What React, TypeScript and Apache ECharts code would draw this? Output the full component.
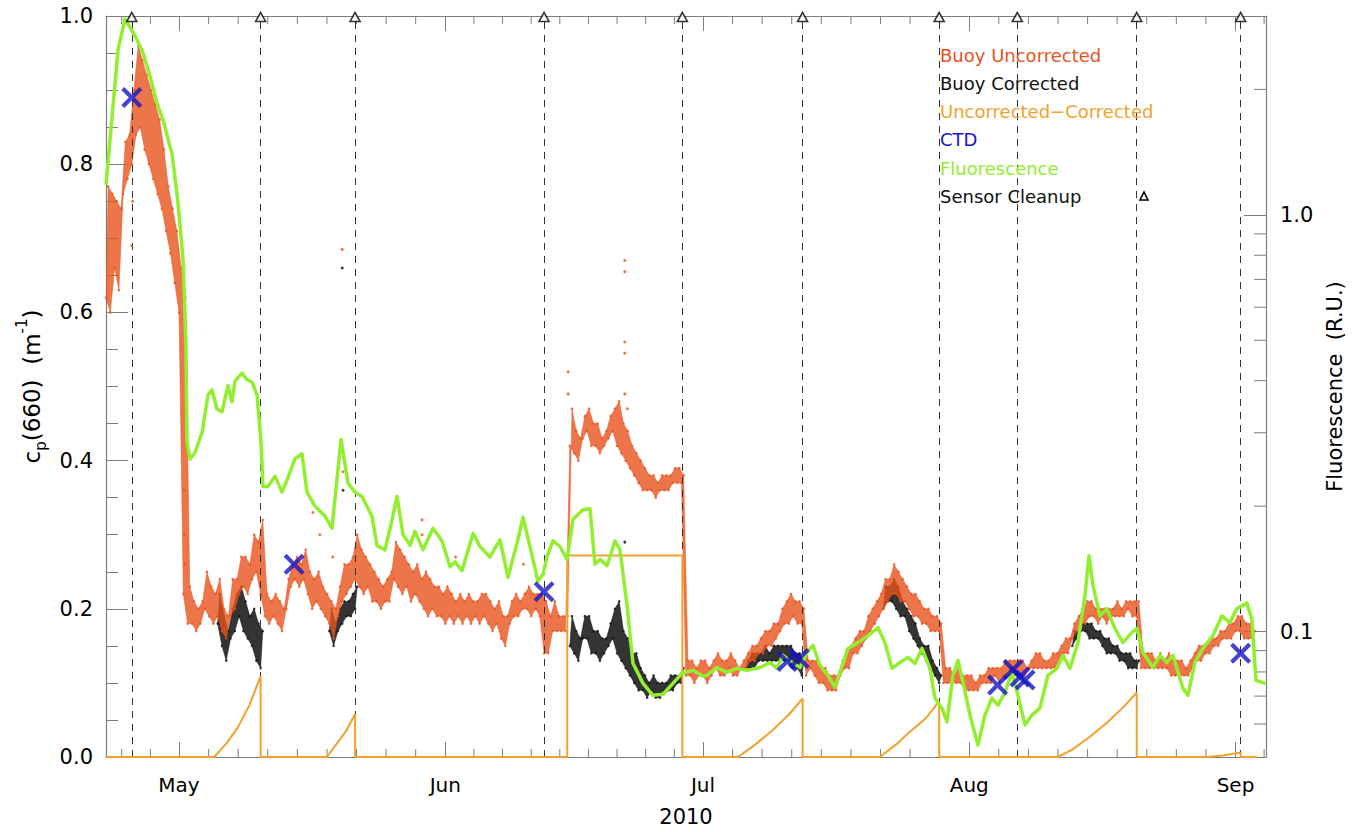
import React, { useEffect, useRef } from 'react';
import * as echarts from 'echarts';

// ---------- axis ranges (day of year 2010) ----------
const X_MIN = 112.5;
const X_MAX = 247.55;
const monthStarts = [91, 121, 152, 182, 213, 244, 274];
const monthTickDays = [121, 152, 182, 213, 244];
const monthNames = ['May', 'Jun', 'Jul', 'Aug', 'Sep'];
const cpTickLabels = ['0.0', '0.2', '0.4', '0.6', '0.8', '1.0'];
const fluorMinorTicks = [0.06, 0.07, 0.08, 0.09, 0.2, 0.3, 0.4, 0.5, 0.6, 0.7, 0.8, 0.9, 2];

// ---------- Sensor cleanup days ----------
const cleanupDays = [115.5, 130.5, 141.5, 163.5, 179.6, 193.6, 209.5, 218.6, 232.5, 244.6];

// ---------- Buoy Uncorrected: low / high envelope every half day from 112.5 ----------
const uncorrStart = 112.5;
const uncorrStep = 0.5;
const uncorrLo = [
  0.62, 0.60, 0.66, 0.63, 0.76, 0.78, 0.80, 0.84, 0.85, 0.82,
  0.80, 0.78, 0.76, 0.74, 0.71, 0.68, 0.64, 0.60, 0.22, 0.18,
  0.18, 0.17, 0.18, 0.20, 0.19, 0.18, 0.19, 0.17, 0.16, 0.19,
  0.20, 0.22, 0.23, 0.22, 0.24, 0.25, 0.22, 0.19, 0.18, 0.19,
  0.18, 0.17, 0.20, 0.23, 0.24, 0.23, 0.24, 0.22, 0.20, 0.21,
  0.20, 0.19, 0.18, 0.16, 0.19, 0.21, 0.22, 0.23, 0.24, 0.23,
  0.22, 0.23, 0.21, 0.21, 0.20, 0.21, 0.21, 0.24, 0.23, 0.22,
  0.23, 0.21, 0.22, 0.21, 0.20, 0.19, 0.20, 0.19, 0.19, 0.18,
  0.19, 0.18, 0.19, 0.18, 0.19, 0.18, 0.19, 0.18, 0.19, 0.18,
  0.17, 0.18, 0.16, 0.15, 0.18, 0.19, 0.19, 0.20, 0.20, 0.19,
  0.20, 0.19, 0.14, 0.14, 0.17, 0.17, 0.17, 0.17, 0.42, 0.41,
  0.40, 0.43, 0.44, 0.42, 0.42, 0.41, 0.42, 0.43, 0.44, 0.42,
  0.41, 0.40, 0.39, 0.38, 0.37, 0.36, 0.36, 0.36, 0.35, 0.36,
  0.36, 0.36, 0.37, 0.37, 0.37, 0.11, 0.11, 0.10, 0.11, 0.11,
  0.10, 0.11, 0.12, 0.11, 0.11, 0.12, 0.11, 0.11, 0.12, 0.12,
  0.13, 0.13, 0.14, 0.14, 0.15, 0.15, 0.16, 0.17, 0.18, 0.18,
  0.19, 0.18, 0.18, 0.11, 0.12, 0.11, 0.10, 0.10, 0.09, 0.09,
  0.09, 0.11, 0.12, 0.12, 0.14, 0.14, 0.15, 0.16, 0.17, 0.18,
  0.19, 0.20, 0.21, 0.22, 0.22, 0.21, 0.21, 0.20, 0.19, 0.19,
  0.18, 0.18, 0.17, 0.17, 0.17, 0.10, 0.10, 0.10, 0.10, 0.10,
  0.09, 0.09, 0.09, 0.09, 0.10, 0.10, 0.10, 0.11, 0.10, 0.11,
  0.11, 0.11, 0.11, 0.11, 0.11, 0.12, 0.12, 0.12, 0.12, 0.12,
  0.12, 0.12, 0.13, 0.14, 0.14, 0.16, 0.17, 0.18, 0.18, 0.19,
  0.19, 0.18, 0.19, 0.18, 0.19, 0.19, 0.19, 0.19, 0.20, 0.19,
  0.19, 0.12, 0.12, 0.12, 0.12, 0.12, 0.12, 0.12, 0.11, 0.11,
  0.11, 0.11, 0.11, 0.12, 0.13, 0.13, 0.14, 0.14, 0.15, 0.15,
  0.16, 0.16, 0.16, 0.17, 0.17, 0.16, 0.16, 0.16,
];
const uncorrHi = [
  0.77, 0.76, 0.75, 0.74, 0.83, 0.84, 0.90, 0.96, 0.94, 0.92,
  0.90, 0.88, 0.86, 0.82, 0.77, 0.74, 0.71, 0.66, 0.62, 0.23,
  0.21, 0.20, 0.21, 0.25, 0.23, 0.22, 0.24, 0.20, 0.19, 0.24,
  0.24, 0.27, 0.27, 0.26, 0.30, 0.29, 0.32, 0.22, 0.21, 0.22,
  0.21, 0.20, 0.24, 0.26, 0.27, 0.26, 0.28, 0.25, 0.24, 0.25,
  0.23, 0.22, 0.21, 0.20, 0.23, 0.26, 0.26, 0.27, 0.30, 0.28,
  0.27, 0.26, 0.25, 0.24, 0.23, 0.24, 0.25, 0.29, 0.28, 0.27,
  0.26, 0.25, 0.26, 0.24, 0.25, 0.24, 0.23, 0.23, 0.22, 0.23,
  0.22, 0.21, 0.22, 0.21, 0.22, 0.21, 0.21, 0.22, 0.22, 0.21,
  0.20, 0.21, 0.19, 0.19, 0.21, 0.22, 0.21, 0.22, 0.23, 0.22,
  0.22, 0.22, 0.21, 0.19, 0.21, 0.19, 0.19, 0.19, 0.47, 0.44,
  0.43, 0.46, 0.47, 0.45, 0.45, 0.43, 0.44, 0.46, 0.47, 0.48,
  0.45, 0.44, 0.42, 0.41, 0.40, 0.39, 0.38, 0.38, 0.37, 0.38,
  0.38, 0.38, 0.39, 0.39, 0.38, 0.13, 0.13, 0.12, 0.13, 0.13,
  0.12, 0.13, 0.14, 0.13, 0.13, 0.14, 0.13, 0.12, 0.13, 0.14,
  0.15, 0.15, 0.16, 0.17, 0.17, 0.18, 0.18, 0.20, 0.21, 0.22,
  0.21, 0.21, 0.20, 0.13, 0.13, 0.13, 0.12, 0.12, 0.11, 0.11,
  0.11, 0.13, 0.14, 0.15, 0.16, 0.17, 0.17, 0.19, 0.20, 0.21,
  0.22, 0.24, 0.24, 0.26, 0.25, 0.24, 0.23, 0.22, 0.22, 0.21,
  0.20, 0.20, 0.19, 0.19, 0.18, 0.12, 0.12, 0.11, 0.12, 0.11,
  0.11, 0.11, 0.10, 0.11, 0.11, 0.12, 0.12, 0.12, 0.12, 0.13,
  0.13, 0.13, 0.13, 0.13, 0.12, 0.13, 0.14, 0.14, 0.13, 0.13,
  0.14, 0.14, 0.15, 0.16, 0.16, 0.18, 0.19, 0.20, 0.21, 0.21,
  0.20, 0.20, 0.20, 0.20, 0.20, 0.21, 0.20, 0.21, 0.21, 0.21,
  0.21, 0.14, 0.14, 0.14, 0.13, 0.14, 0.13, 0.14, 0.13, 0.13,
  0.13, 0.12, 0.13, 0.14, 0.15, 0.15, 0.15, 0.16, 0.16, 0.17,
  0.17, 0.18, 0.18, 0.19, 0.19, 0.18, 0.18, 0.17,
];
const uncorrOutliers = [
  [115.5, 0.69], [115.6, 0.75], [121.6, 0.36], [121.6, 0.30], [121.7, 0.26],
  [136.6, 0.33], [137.4, 0.30], [138.9, 0.27], [140.0, 0.685], [140.1, 0.385],
  [149.3, 0.32], [149.3, 0.30], [153.2, 0.27], [161.1, 0.26], [166.3, 0.52],
  [166.3, 0.49], [172.9, 0.67], [172.9, 0.655], [172.9, 0.56], [172.9, 0.545],
  [172.9, 0.49], [173.2, 0.47],
];

// ---------- Buoy Corrected: visible segments (low / high every half day) ----------
const corrAStart = 125.5;
const corrALo = [0.18, 0.15, 0.13, 0.16, 0.17, 0.19, 0.17, 0.16, 0.15, 0.13, 0.12];
const corrAHi = [0.22, 0.19, 0.17, 0.20, 0.22, 0.23, 0.21, 0.19, 0.20, 0.18, 0.17];
const corrBStart = 138.5;
const corrBLo = [0.17, 0.15, 0.17, 0.18, 0.19, 0.19, 0.20];
const corrBHi = [0.20, 0.18, 0.20, 0.21, 0.21, 0.22, 0.23];
const corrCStart = 166.5;
const corrCLo = [0.15, 0.14, 0.13, 0.16, 0.16, 0.14, 0.14, 0.13, 0.14, 0.15, 0.16, 0.14, 0.13, 0.12,
  0.11, 0.10, 0.09, 0.09, 0.08, 0.09, 0.08, 0.08, 0.09, 0.09, 0.09, 0.10, 0.10];
const corrCHi = [0.19, 0.17, 0.16, 0.19, 0.19, 0.17, 0.17, 0.16, 0.16, 0.18, 0.20, 0.21, 0.17, 0.16,
  0.14, 0.14, 0.12, 0.11, 0.10, 0.11, 0.10, 0.10, 0.10, 0.11, 0.11, 0.11, 0.12];
const corrDStart = 187;
const corrDLo = [0.12, 0.12, 0.12, 0.13, 0.13, 0.13, 0.13, 0.13, 0.13, 0.13, 0.13, 0.12, 0.12, 0.11];
const corrDHi = [0.13, 0.14, 0.14, 0.14, 0.15, 0.14, 0.15, 0.15, 0.15, 0.15, 0.15, 0.14, 0.14, 0.13];
const corrEStart = 203;
const corrELo = [0.20, 0.21, 0.21, 0.20, 0.19, 0.19, 0.17, 0.16, 0.15, 0.14, 0.13, 0.12, 0.11, 0.10];
const corrEHi = [0.23, 0.23, 0.24, 0.23, 0.21, 0.20, 0.19, 0.18, 0.16, 0.15, 0.15, 0.13, 0.12, 0.11];
const corrFStart = 225;
const corrFLo = [0.15, 0.16, 0.17, 0.17, 0.16, 0.16, 0.16, 0.15, 0.14, 0.14, 0.14, 0.13, 0.13, 0.12, 0.12, 0.12];
const corrFHi = [0.17, 0.17, 0.18, 0.18, 0.18, 0.17, 0.17, 0.16, 0.16, 0.15, 0.15, 0.14, 0.14, 0.14, 0.13, 0.13];
const corrOutliers = [[140.0, 0.66], [140.1, 0.36], [172.9, 0.29]];

// ---------- Uncorrected - Corrected ----------
const diffDays = [112.5, 125.1, 126.5, 127.8, 129.2, 130.5, 130.5, 138.2, 139.5, 140.5, 141.5, 141.5,
  166.2, 166.2, 179.6, 179.6, 186.1, 188, 190, 192, 193.6, 193.6, 202.6, 204.5, 206, 208, 209.5, 209.5,
  223.3, 225, 227, 229, 231, 232.5, 232.5, 240.7, 242.5, 244.6, 244.6, 246.5];
const diffValues = [0, 0, 0.018, 0.039, 0.07, 0.109, 0, 0, 0.02, 0.036, 0.058, 0,
  0, 0.272, 0.272, 0, 0, 0.016, 0.035, 0.057, 0.079, 0, 0, 0.017, 0.033, 0.053, 0.075, 0,
  0, 0.01, 0.027, 0.046, 0.068, 0.087, 0, 0, 0.002, 0.006, 0, 0];

// ---------- CTD ----------
const ctdDays = [115.5, 134.4, 163.5, 191.8, 193.2, 216.3, 218.1, 218.9, 219.5, 244.6];
const ctdValues = [0.89, 0.26, 0.223, 0.129, 0.133, 0.097, 0.118, 0.108, 0.104, 0.14];

// ---------- Fluorescence (R.U., log axis) ----------
const fluorDays = [112.5, 113.9, 114.71, 115.06, 115.88, 116.81, 117.62, 118.44, 119.14, 120.19, 120.88,
  121.47, 121.81, 121.93, 122.28, 122.86, 123.68, 124.38, 124.84, 125.42, 126.01, 126.7, 127.17, 127.52,
  128.33, 128.92, 129.5, 130.08, 130.55, 130.78, 131.36, 132.18, 132.99, 133.69, 134.5, 135.32, 135.9,
  136.83, 138.0, 138.81, 139.86, 140.67, 141.49, 142.3, 143.47, 144.05, 144.98, 145.8, 146.38, 147.08,
  147.89, 148.47, 149.41, 150.57, 151.62, 152.55, 153.13, 153.95, 155.23, 156.04, 157.2, 158.37, 159.3,
  160.35, 161.05, 161.86, 162.79, 163.37, 163.84, 164.54, 165.35, 166.17, 166.87, 168.03, 168.85, 169.43,
  170.01, 170.83, 171.76, 172.34, 173.15, 173.85, 175.02, 176.18, 177.34, 178.51, 179.56, 180.84, 182.0,
  182.47, 183.63, 184.79, 185.96, 187.12, 188.64, 189.8, 190.62, 191.31, 192.36, 193.29, 194.11, 194.81,
  195.62, 196.55, 197.37, 197.95, 198.88, 200.05, 201.21, 202.37, 203.19, 204.0, 204.93, 205.87, 206.68,
  207.5, 208.43, 209.01, 209.82, 210.41, 211.1, 211.69, 212.27, 213.09, 214.01, 214.83, 215.64, 216.34,
  217.16, 217.97, 218.67, 219.49, 220.3, 221.23, 222.16, 223.21, 223.91, 224.73, 225.66, 226.47, 226.94,
  227.4, 228.22, 229.03, 229.96, 230.9, 231.94, 232.53, 233.22, 234.39, 235.2, 236.02, 236.72, 237.88,
  238.46, 239.28, 240.21, 241.37, 242.42, 243.35, 244.16, 245.33, 245.91, 246.38, 247.5];
const fluorValues = [1.18, 2.49, 2.95, 2.87, 2.69, 2.45, 2.15, 1.85, 1.69, 1.40, 1.07,
  0.78, 0.484, 0.284, 0.259, 0.269, 0.300, 0.370, 0.380, 0.342, 0.337, 0.389, 0.356, 0.399,
  0.417, 0.402, 0.397, 0.370, 0.284, 0.223, 0.223, 0.236, 0.216, 0.234, 0.260, 0.267, 0.216,
  0.200, 0.189, 0.177, 0.289, 0.227, 0.216, 0.211, 0.189, 0.161, 0.157, 0.185, 0.211, 0.171,
  0.161, 0.174, 0.157, 0.177, 0.165, 0.143, 0.147, 0.140, 0.172, 0.160, 0.151, 0.166, 0.135,
  0.163, 0.188, 0.160, 0.132, 0.137, 0.151, 0.165, 0.160, 0.149, 0.186, 0.196, 0.197, 0.145,
  0.149, 0.144, 0.165, 0.157, 0.116, 0.0839, 0.0751, 0.0703, 0.0707, 0.0751, 0.0794, 0.0807, 0.0781,
  0.0785, 0.082, 0.0798, 0.0816, 0.0807, 0.082, 0.0843, 0.0816, 0.0877, 0.0843, 0.082, 0.0891, 0.0926,
  0.083, 0.0785, 0.0735, 0.0798, 0.0911, 0.0941, 0.0978, 0.1022, 0.0941, 0.0816, 0.0843, 0.0867, 0.0839,
  0.0911, 0.0816, 0.0692, 0.0655, 0.0607, 0.0785, 0.0853, 0.0756, 0.063, 0.0534, 0.063, 0.0692, 0.0666,
  0.0715, 0.0798, 0.0703, 0.0597, 0.063, 0.0655, 0.0785, 0.0816, 0.0877, 0.0816, 0.0941, 0.122, 0.152,
  0.129, 0.109, 0.1135, 0.1017, 0.0941, 0.0995, 0.1017, 0.0891, 0.082, 0.0877, 0.0843, 0.0877, 0.0731,
  0.0703, 0.0843, 0.0911, 0.0978, 0.109, 0.105, 0.1135, 0.117, 0.107, 0.0764, 0.075];

// ---------- styling ----------
const FONT = 'DejaVu Sans';
const AXIS = '#7d7d7d';
const RED = '#e8521d';
const BLACK = '#111111';
const ORANGE = '#f2a22c';
const BLUE = '#1414c4';
const GREEN = '#92ee2e';
const X_SYMBOL = 'path://M0,1.4L1.4,0L5,3.6L8.6,0L10,1.4L6.4,5L10,8.6L8.6,10L5,6.4L1.4,10L0,8.6L3.6,5Z';

type Seg = { start: number; step: number; lo: number[]; hi: number[] };

const uncorrSeg: Seg = { start: uncorrStart, step: uncorrStep, lo: uncorrLo, hi: uncorrHi };
const corrSegs: Seg[] = [
  { start: corrAStart, step: 0.5, lo: corrALo, hi: corrAHi },
  { start: corrBStart, step: 0.5, lo: corrBLo, hi: corrBHi },
  { start: corrCStart, step: 0.5, lo: corrCLo, hi: corrCHi },
  { start: corrDStart, step: 0.5, lo: corrDLo, hi: corrDHi },
  { start: corrEStart, step: 0.5, lo: corrELo, hi: corrEHi },
  { start: corrFStart, step: 0.5, lo: corrFLo, hi: corrFHi },
];

// envelope vertices (lo at sample time, hi shifted by a quarter step) – used as dots for texture
function envelopePoints(s: Seg) {
  const pts: number[][] = [];
  for (let i = 0; i < s.lo.length; i++) {
    const t = s.start + i * s.step;
    pts.push([t, s.lo[i]]);
    pts.push([t + s.step / 2, s.hi[i]]);
  }
  return pts;
}

// band polygon between the low and high envelope, drawn through the axis scales
function bandSeries(s: Seg, color: string, z: number, name: string, opacity: number) {
  return {
    type: 'custom', name, z, silent: true, animation: false, clip: true,
    data: [[s.start, s.lo[0]]],
    renderItem: (_p: any, api: any) => {
      const upper: number[][] = [];
      const lower: number[][] = [];
      for (let i = 0; i < s.lo.length; i++) {
        const t = s.start + i * s.step;
        upper.push(api.coord([t + s.step / 2, s.hi[i]]));
        lower.push(api.coord([t, s.lo[i]]));
      }
      return {
        type: 'polygon',
        shape: { points: upper.concat(lower.reverse()) },
        style: { fill: color, opacity, stroke: color, lineWidth: 0.6 },
      };
    },
  };
}

const minorTickDays: number[] = [];
for (let m = 0; m < monthStarts.length - 1; m++) {
  const a = monthStarts[m];
  const b = monthStarts[m + 1];
  for (let k = 1; k < 9; k++) {
    const v = a + (k * (b - a)) / 9;
    if (v > X_MIN && v < X_MAX) minorTickDays.push(v);
  }
}

function monthLabel(v: number) {
  const i = monthTickDays.findIndex((d) => Math.abs(d - v) < 1e-6);
  return i >= 0 ? monthNames[i] : '';
}

function buildOption(): any {
  const lineBase = { type: 'line', symbol: 'none', animation: false, silent: true };
  return {
    animation: false,
    backgroundColor: '#ffffff',
    grid: { left: 106, right: 95, top: 16, bottom: 73, containLabel: false },
    xAxis: [
      {
        type: 'value', position: 'bottom', min: X_MIN, max: X_MAX,
        axisLine: { show: true, onZero: false, lineStyle: { color: AXIS, width: 1.2 } },
        axisTick: { show: true, inside: true, length: 15, customValues: monthTickDays, lineStyle: { color: AXIS } },
        axisLabel: {
          show: true, customValues: monthTickDays, formatter: (v: number) => monthLabel(v),
          fontFamily: FONT, fontSize: 20, color: '#000', margin: 18,
        },
        splitLine: { show: false },
        name: '2010', nameLocation: 'middle', nameGap: 49,
        nameTextStyle: { fontFamily: FONT, fontSize: 21, color: '#000' },
      },
      {
        type: 'value', position: 'top', min: X_MIN, max: X_MAX,
        axisLine: { show: true, onZero: false, lineStyle: { color: AXIS, width: 1.2 } },
        axisTick: { show: true, inside: true, length: 15, customValues: monthTickDays, lineStyle: { color: AXIS } },
        axisLabel: { show: false },
        splitLine: { show: false },
      },
    ],
    yAxis: [
      {
        type: 'value', position: 'left', min: 0, max: 1, interval: 0.2,
        axisLine: { show: true, onZero: false, lineStyle: { color: AXIS, width: 1.2 } },
        axisTick: { show: true, inside: true, length: 22, lineStyle: { color: AXIS } },
        minorTick: { show: true, splitNumber: 4, length: 12, lineStyle: { color: AXIS } },
        axisLabel: {
          formatter: (v: number) => cpTickLabels[Math.round(v * 5)] ?? '',
          fontFamily: FONT, fontSize: 21, color: '#000', margin: 13,
        },
        splitLine: { show: false },
        name: '{a|c}{b|p}{a|(660)  (m}{c|-1}{a|)}',
        nameLocation: 'middle', nameRotate: 90, nameGap: 50,
        nameTextStyle: {
          fontFamily: FONT, fontSize: 23, color: '#000',
          rich: {
            a: { fontFamily: FONT, fontSize: 23, lineHeight: 34, color: '#000' },
            b: { fontFamily: FONT, fontSize: 15, lineHeight: 14, verticalAlign: 'bottom', color: '#000' },
            c: { fontFamily: FONT, fontSize: 15, lineHeight: 14, verticalAlign: 'top', color: '#000' },
          },
        },
      },
      {
        type: 'log', logBase: 10, position: 'right', min: 0.05, max: 3.0,
        axisLine: { show: true, onZero: false, lineStyle: { color: AXIS, width: 1.2 } },
        axisTick: { show: true, inside: true, length: 22, lineStyle: { color: AXIS } },
        axisLabel: {
          formatter: (v: number) => (Math.abs(v - 1) < 1e-6 ? '1.0' : Math.abs(v - 0.1) < 1e-7 ? '0.1' : ''),
          fontFamily: FONT, fontSize: 21, color: '#000', margin: 14,
        },
        splitLine: { show: false },
        name: 'Fluorescence  (R.U.)', nameLocation: 'middle', nameRotate: 90, nameGap: 55,
        nameTextStyle: { fontFamily: FONT, fontSize: 21, color: '#000' },
      },
    ],
    series: [
      {
        ...lineBase, name: 'cleanupLines', data: [], z: 1,
        markLine: {
          silent: true, symbol: ['none', 'none'], label: { show: false }, animation: false,
          lineStyle: { type: [7, 6], color: '#333333', width: 1 },
          data: cleanupDays.map((d) => ({ xAxis: d })),
        },
      },
      ...corrSegs.map((s, i) => bandSeries(s, BLACK, 3, 'Buoy Corrected ' + i, 0.85)),
      ...corrSegs.map((s, i) => ({
        type: 'scatter', name: 'Buoy Corrected dots ' + i, data: envelopePoints(s), symbolSize: 2.6, z: 3,
        itemStyle: { color: BLACK }, animation: false, silent: true,
      })),
      bandSeries(uncorrSeg, RED, 4, 'Buoy Uncorrected', 0.8),
      {
        type: 'scatter', name: 'Buoy Uncorrected dots', data: envelopePoints(uncorrSeg), symbolSize: 2.6, z: 4,
        itemStyle: { color: RED }, animation: false, silent: true,
      },
      {
        type: 'scatter', name: 'corr outliers', data: corrOutliers, symbolSize: 3, z: 4,
        itemStyle: { color: BLACK }, animation: false, silent: true,
      },
      {
        type: 'scatter', name: 'uncorr outliers', data: uncorrOutliers, symbolSize: 3, z: 5,
        itemStyle: { color: RED }, animation: false, silent: true,
      },
      {
        ...lineBase, name: 'Uncorrected-Corrected', z: 6, clip: false,
        data: diffDays.map((d, i) => [d, diffValues[i]]),
        lineStyle: { color: ORANGE, width: 2 },
      },
      {
        ...lineBase, name: 'Fluorescence', yAxisIndex: 1, z: 7,
        data: fluorDays.map((d, i) => [d, fluorValues[i]]),
        lineStyle: { color: GREEN, width: 3.5, join: 'round' },
      },
      {
        type: 'scatter', name: 'CTD', z: 8, symbol: X_SYMBOL, symbolSize: 21,
        data: ctdDays.map((d, i) => [d, ctdValues[i]]),
        itemStyle: { color: BLUE }, animation: false, silent: true,
      },
      {
        type: 'scatter', name: 'Sensor Cleanup', z: 9, symbol: 'triangle', symbolSize: [10, 9],
        symbolOffset: [0, 1], clip: false,
        data: cleanupDays.map((d) => [d, 1]),
        itemStyle: { color: '#ffffff', borderColor: '#000000', borderWidth: 1.6 },
        animation: false, silent: true,
      },
    ],
  };
}

export default function App() {
  const ref = useRef<HTMLDivElement>(null);
  useEffect(() => {
    if (!ref.current) return;
    const chart = echarts.init(ref.current, undefined, { renderer: 'svg' });
    chart.setOption(buildOption());

    const xRight = chart.convertToPixel({ xAxisIndex: 0 }, X_MAX) as number;
    const yBottom = chart.convertToPixel({ yAxisIndex: 0 }, 0) as number;
    const yTop = chart.convertToPixel({ yAxisIndex: 0 }, 1) as number;
    const graphics: any[] = [];
    fluorMinorTicks.forEach((v) => {
      const y = chart.convertToPixel({ yAxisIndex: 1 }, v) as number;
      graphics.push({ type: 'line', silent: true, shape: { x1: xRight - 12, y1: y, x2: xRight, y2: y }, style: { stroke: AXIS, lineWidth: 1 } });
    });
    minorTickDays.forEach((d) => {
      const x = chart.convertToPixel({ xAxisIndex: 0 }, d) as number;
      graphics.push({ type: 'line', silent: true, shape: { x1: x, y1: yBottom - 8, x2: x, y2: yBottom }, style: { stroke: AXIS, lineWidth: 1 } });
      graphics.push({ type: 'line', silent: true, shape: { x1: x, y1: yTop, x2: x, y2: yTop + 8 }, style: { stroke: AXIS, lineWidth: 1 } });
    });
    const legend = [
      { text: 'Buoy Uncorrected', color: RED },
      { text: 'Buoy Corrected', color: BLACK },
      { text: 'Uncorrected\u2212Corrected', color: ORANGE },
      { text: 'CTD', color: BLUE },
      { text: 'Fluorescence', color: GREEN },
      { text: 'Sensor Cleanup', color: BLACK },
    ];
    legend.forEach((l, i) => {
      graphics.push({
        type: 'text', silent: true, x: 940, y: 55 + i * 28.3, z: 20,
        style: { text: l.text, fill: l.color, font: `18px "${FONT}"`, textVerticalAlign: 'middle', verticalAlign: 'middle' },
      });
    });
    graphics.push({
      type: 'polygon', silent: true, z: 20,
      shape: { points: [[1140, 200], [1148, 200], [1144, 192]] },
      style: { fill: '#ffffff', stroke: '#000000', lineWidth: 1.6 },
    });
    chart.setOption({ graphic: graphics });

    return () => chart.dispose();
  }, []);
  return (
    <div
      ref={ref}
      style={{ position: 'fixed', left: 0, top: 0, width: 1361, height: 832, background: '#ffffff' }}
    />
  );
}
